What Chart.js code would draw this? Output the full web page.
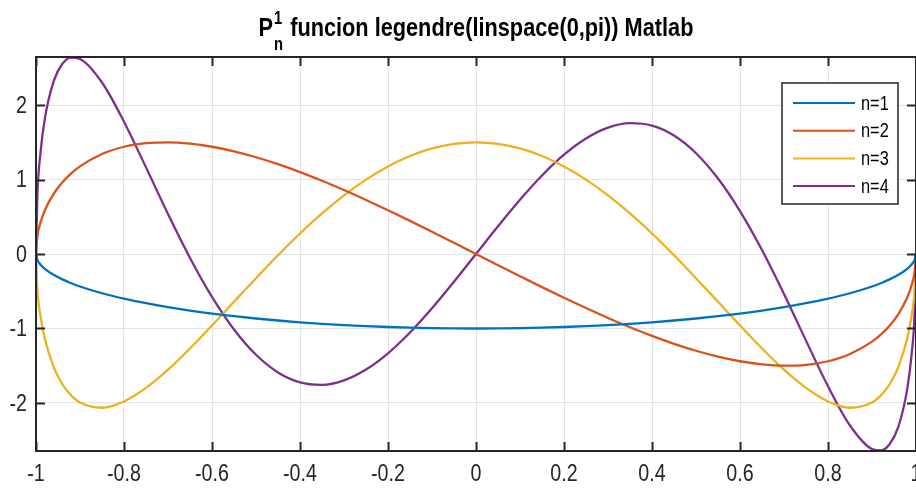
<!DOCTYPE html>
<html>
<head>
<meta charset="utf-8">
<script src="https://cdn.jsdelivr.net/npm/chart.js@4/dist/chart.umd.min.js"></script>
<style>
html, body { margin: 0; padding: 0; background: #fff; overflow: hidden; }
#wrap { width: 940px; height: 490px; }
</style>
</head>
<body>
<div id="wrap"><canvas id="legendreChart" width="940" height="490"></canvas></div>
<script>
// x = cos(theta) samples
const xValues = [-1, -0.997, -0.99, -0.98, -0.96, -0.94, -0.92, -0.9, -0.85, -0.8, -0.75, -0.7, -0.65, -0.6, -0.55, -0.5, -0.45, -0.4, -0.35, -0.3, -0.25, -0.2, -0.15, -0.1, -0.05, 0,
    0.05, 0.1, 0.15, 0.2, 0.25, 0.3, 0.35, 0.4, 0.45, 0.5, 0.55, 0.6, 0.65, 0.7, 0.75, 0.8, 0.85, 0.9, 0.92, 0.94, 0.96, 0.98, 0.99, 0.997, 1];

const n1Values = [0, -0.077, -0.141, -0.199, -0.28, -0.341, -0.392, -0.436, -0.527, -0.6, -0.661, -0.714, -0.76, -0.8, -0.835, -0.866, -0.893, -0.917, -0.937, -0.954, -0.968, -0.98, -0.989, -0.995, -0.999, -1,
    -0.999, -0.995, -0.989, -0.98, -0.968, -0.954, -0.937, -0.917, -0.893, -0.866, -0.835, -0.8, -0.76, -0.714, -0.661, -0.6, -0.527, -0.436, -0.392, -0.341, -0.28, -0.199, -0.141, -0.077, 0];

const n2Values = [0, 0.232, 0.419, 0.585, 0.806, 0.962, 1.082, 1.177, 1.343, 1.44, 1.488, 1.5, 1.482, 1.44, 1.378, 1.299, 1.206, 1.1, 0.984, 0.859, 0.726, 0.588, 0.445, 0.299, 0.15, 0,
    -0.15, -0.299, -0.445, -0.588, -0.726, -0.859, -0.984, -1.1, -1.206, -1.299, -1.378, -1.44, -1.482, -1.5, -1.488, -1.44, -1.343, -1.177, -1.082, -0.962, -0.806, -0.585, -0.419, -0.232, 0];

const n3Values = [0, -0.461, -0.825, -1.135, -1.515, -1.749, -1.9, -1.994, -2.064, -1.98, -1.798, -1.553, -1.268, -0.96, -0.642, -0.325, -0.017, 0.275, 0.545, 0.787, 0.999, 1.176, 1.316, 1.418, 1.479, 1.5,
    1.479, 1.418, 1.316, 1.176, 0.999, 0.787, 0.545, 0.275, -0.017, -0.325, -0.642, -0.96, -1.268, -1.553, -1.798, -1.98, -2.064, -1.994, -1.9, -1.749, -1.515, -1.135, -0.825, -0.461, 0];

const n4Values = [0, 0.764, 1.348, 1.815, 2.319, 2.554, 2.637, 2.619, 2.303, 1.776, 1.163, 0.537, -0.053, -0.576, -1.013, -1.353, -1.59, -1.723, -1.756, -1.696, -1.551, -1.333, -1.054, -0.729, -0.372, 0,
    0.372, 0.729, 1.054, 1.333, 1.551, 1.696, 1.756, 1.723, 1.59, 1.353, 1.013, 0.576, 0.053, -0.537, -1.163, -1.776, -2.303, -2.619, -2.637, -2.554, -2.319, -1.815, -1.348, -0.764, 0];

const seriesLabels = ["n=1", "n=2", "n=3", "n=4"];
const seriesColors = ["#0072BD", "#D95319", "#EDB120", "#7E2F8E"];

const xTicks = [-1, -0.8, -0.6, -0.4, -0.2, 0, 0.2, 0.4, 0.6, 0.8, 1];
const xTickLabels = ["-1", "-0.8", "-0.6", "-0.4", "-0.2", "0", "0.2", "0.4", "0.6", "0.8", "1"];
const yTicks = [-2, -1, 0, 1, 2];
const yTickLabels = ["-2", "-1", "0", "1", "2"];

const titleRest = " funcion legendre(linspace(0,pi)) Matlab";

const FONT = "'Liberation Sans', Arial, sans-serif";
const NARROW = 0.82;   // squeeze to look like Helvetica Narrow
const AXIS_COLOR = "#262626";


function toPoints(values) {
    return values.map((v, i) => ({ x: xValues[i], y: v }));
}

// draw text squeezed horizontally around its anchor
function narrowText(ctx, text, x, y) {
    ctx.save();
    ctx.translate(x, y);
    ctx.scale(NARROW, 1);
    ctx.fillText(text, 0, 0);
    ctx.restore();
}


// Matlab-style box, inward ticks and tick labels
const axesPlugin = {
    id: 'matlabAxes',
    afterDraw(chart) {
        const ctx = chart.ctx;
        const area = chart.chartArea;
        const xs = chart.scales.x;
        const ys = chart.scales.y;
        const tickLen = 9;

        ctx.save();
        ctx.strokeStyle = AXIS_COLOR;
        ctx.lineWidth = 2;
        ctx.strokeRect(area.left, area.top, area.right - area.left, area.bottom - area.top);

        ctx.beginPath();
        xTicks.forEach(v => {
            const px = Math.round(xs.getPixelForValue(v)) + 0.5;
            ctx.moveTo(px, area.bottom);
            ctx.lineTo(px, area.bottom - tickLen);
            ctx.moveTo(px, area.top);
            ctx.lineTo(px, area.top + tickLen);
        });
        yTicks.forEach(v => {
            const py = Math.round(ys.getPixelForValue(v)) + 0.5;
            ctx.moveTo(area.left, py);
            ctx.lineTo(area.left + tickLen, py);
            ctx.moveTo(area.right, py);
            ctx.lineTo(area.right - tickLen, py);
        });
        ctx.stroke();

        ctx.fillStyle = AXIS_COLOR;
        ctx.font = "24px " + FONT;
        ctx.textAlign = 'center';
        ctx.textBaseline = 'middle';
        xTicks.forEach((v, i) => {
            narrowText(ctx, xTickLabels[i], xs.getPixelForValue(v), area.bottom + 23);
        });
        ctx.textAlign = 'right';
        yTicks.forEach((v, i) => {
            narrowText(ctx, yTickLabels[i], area.left - 9, ys.getPixelForValue(v) + 1);
        });
        ctx.restore();
    }
};


// title with P sub n super 1
const titlePlugin = {
    id: 'matlabTitle',
    afterDraw(chart) {
        const ctx = chart.ctx;
        const area = chart.chartArea;
        const mainFont = "bold 26.5px " + FONT;
        const scriptFont = "bold 18px " + FONT;
        const baseline = 36;

        ctx.save();
        ctx.fillStyle = "#000";
        ctx.textBaseline = 'alphabetic';
        ctx.textAlign = 'left';
        ctx.font = mainFont;
        const wP = ctx.measureText("P").width * NARROW;
        const wRest = ctx.measureText(titleRest).width * NARROW;
        ctx.font = scriptFont;
        const wScript = Math.max(ctx.measureText("1").width, ctx.measureText("n").width) * NARROW + 2;
        const total = wP + wScript + wRest;
        let x = (area.left + area.right) / 2 - total / 2;

        ctx.font = mainFont;
        narrowText(ctx, "P", x, baseline);
        x += wP + 1;
        ctx.font = scriptFont;
        narrowText(ctx, "1", x, baseline - 12);
        narrowText(ctx, "n", x, baseline + 14);
        x += wScript - 1;
        ctx.font = mainFont;
        narrowText(ctx, titleRest, x, baseline);
        ctx.restore();
    }
};


const legendPlugin = {
    id: 'matlabLegend',
    afterDraw(chart) {
        const ctx = chart.ctx;
        const box = { left: 782, top: 83, width: 116, height: 121 };
        const rowGap = 27.7;

        ctx.save();
        ctx.fillStyle = "#fff";
        ctx.fillRect(box.left, box.top, box.width, box.height);
        ctx.strokeStyle = AXIS_COLOR;
        ctx.lineWidth = 1.5;
        ctx.strokeRect(box.left, box.top, box.width, box.height);

        ctx.font = "20px " + FONT;
        ctx.textAlign = 'left';
        ctx.textBaseline = 'middle';
        chart.data.datasets.forEach((ds, i) => {
            const y = box.top + 20 + i * rowGap;
            ctx.strokeStyle = ds.borderColor;
            ctx.lineWidth = 2;
            ctx.beginPath();
            ctx.moveTo(box.left + 11, y);
            ctx.lineTo(box.left + 73, y);
            ctx.stroke();
            ctx.fillStyle = "#000";
            narrowText(ctx, ds.label, box.left + 79, y + 1);
        });
        ctx.restore();
    }
};


function initChart() {
    const ctx = document.getElementById("legendreChart").getContext("2d");
    const allValues = [n1Values, n2Values, n3Values, n4Values];

    new Chart(ctx, {
        type: "line",
        data: {
            datasets: allValues.map((vals, i) => ({
                label: seriesLabels[i],
                data: toPoints(vals),
                borderColor: seriesColors[i],
                backgroundColor: seriesColors[i],
                borderWidth: 2.3,
                pointRadius: 0,
                fill: false,
                cubicInterpolationMode: 'monotone'
            }))
        },
        options: {
            responsive: false,
            animation: false,
            devicePixelRatio: 1,
            layout: {
                padding: { left: 0, top: 57, right: 24, bottom: 0 }
            },
            plugins: {
                legend: { display: false },
                title: { display: false },
                tooltip: { enabled: false }
            },
            scales: {
                x: {
                    type: 'linear',
                    min: -1,
                    max: 1,
                    afterBuildTicks: scale => { scale.ticks = xTicks.map(v => ({ value: v })); },
                    afterFit: scale => { scale.height = 39; },
                    ticks: { display: false },
                    grid: { color: '#e2e2e2', lineWidth: 1, drawTicks: false },
                    border: { display: false }
                },
                y: {
                    type: 'linear',
                    min: -2.645,
                    max: 2.645,
                    afterBuildTicks: scale => { scale.ticks = yTicks.map(v => ({ value: v })); },
                    afterFit: scale => { scale.width = 36; },
                    ticks: { display: false },
                    grid: { color: '#e2e2e2', lineWidth: 1, drawTicks: false },
                    border: { display: false }
                }
            }
        },
        plugins: [axesPlugin, titlePlugin, legendPlugin]
    });
}


document.addEventListener('DOMContentLoaded', initChart);
</script>
</body>
</html>
